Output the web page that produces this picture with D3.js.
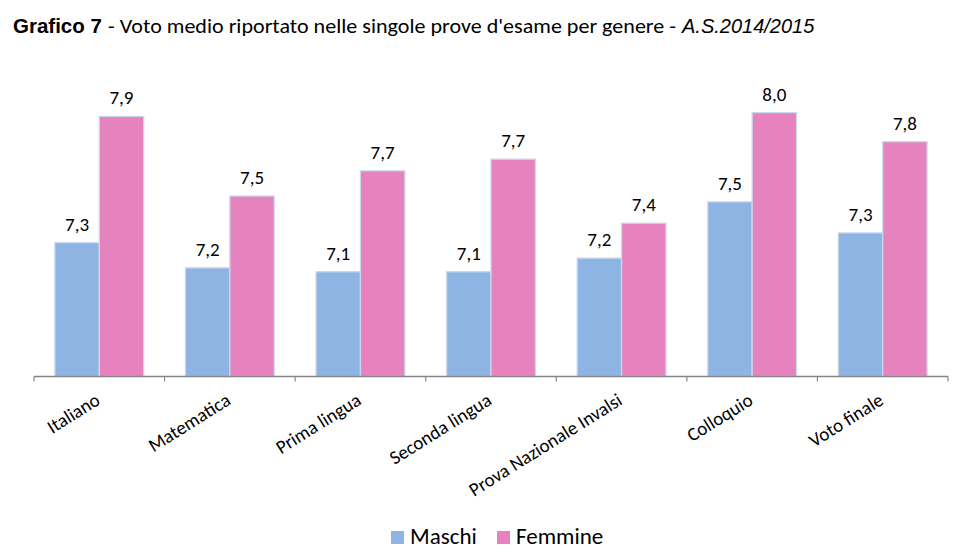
<!DOCTYPE html>
<html><head><meta charset="utf-8">
<script src="https://cdn.jsdelivr.net/npm/d3@7"></script>
<style>
body{margin:0;background:#fff;}
svg{display:block;}
</style></head>
<body>
<svg id="chart" width="971" height="558"></svg>
<script>
const categories = ["Italiano","Matematica","Prima lingua","Seconda lingua","Prova Nazionale Invalsi","Colloquio","Voto finale"];
const series = ["Maschi","Femmine"];
const maschi  = [7.29, 7.16, 7.14, 7.14, 7.21, 7.50, 7.34];
const femmine = [7.94, 7.53, 7.66, 7.72, 7.39, 7.96, 7.81];
const colors = ["#8EB4E3","#E683BE"];
const yDomain = [6.6, 8.2];

(function(){
const svg = d3.select("#chart");
const leftX = 34, rightX = 948, base = 376.5, topY = 66;
const labelFont = "Carlito, Calibri, Lato, sans-serif";
const arial = "'Liberation Sans', Arial, sans-serif";

// Title
svg.append("text").attr("x", 13).attr("y", 33).attr("fill", "#000")
  .attr("font-family", arial).attr("font-weight", "bold").attr("font-size", 20.5).text("Grafico 7");
svg.append("text").attr("x", 108).attr("y", 33).attr("fill", "#000")
  .attr("font-family", labelFont).attr("font-size", 21)
  .attr("textLength", 568).attr("lengthAdjust", "spacingAndGlyphs")
  .text("- Voto medio riportato nelle singole prove d'esame per genere -");
svg.append("text").attr("x", 682).attr("y", 33).attr("fill", "#000")
  .attr("font-family", arial).attr("font-style", "italic").attr("font-size", 20).text("A.S.2014/2015");

const x0 = d3.scaleBand().domain(categories).range([leftX, rightX]).paddingInner(0.32).paddingOuter(0.16);
const x1 = d3.scaleBand().domain(series).range([0, x0.bandwidth()]);
const y = d3.scaleLinear().domain(yDomain).range([base, topY]);

const data = categories.map((c, i) => ({cat: c, vals: [
  {s: "Maschi", v: maschi[i]}, {s: "Femmine", v: femmine[i]}]}));

const fmt = v => v.toFixed(1).replace(".", ",");

const g = svg.append("g");
const groups = g.selectAll("g.cat").data(data).join("g")
  .attr("transform", d => `translate(${x0(d.cat)},0)`);

groups.selectAll("rect").data(d => d.vals).join("rect")
  .attr("x", d => x1(d.s))
  .attr("y", d => y(d.v))
  .attr("width", x1.bandwidth())
  .attr("height", d => base - y(d.v))
  .attr("fill", (d, i) => colors[i])
  .attr("stroke", "#C9D8EE")
  .attr("stroke-width", 1.3);

groups.selectAll("text.val").data(d => d.vals).join("text")
  .attr("class", "val")
  .attr("x", d => x1(d.s) + x1.bandwidth() / 2)
  .attr("y", d => y(d.v) - 12)
  .attr("text-anchor", "middle")
  .attr("font-family", labelFont)
  .attr("font-size", 19)
  .attr("fill", "#000")
  .text(d => fmt(d.v));

// Axis line and ticks at category boundaries
const axisG = svg.append("g");
axisG.append("line").attr("x1", leftX).attr("x2", rightX).attr("y1", base).attr("y2", base)
  .attr("stroke", "#868686").attr("stroke-width", 1.5);
const bounds = d3.range(categories.length + 1).map(i => leftX + i * x0.step());
axisG.selectAll("line.tick").data(bounds).join("line")
  .attr("class", "tick")
  .attr("x1", d => d).attr("x2", d => d)
  .attr("y1", base).attr("y2", base + 5)
  .attr("stroke", "#868686").attr("stroke-width", 1.2);

// Category labels rotated
svg.append("g").selectAll("text").data(categories).join("text")
  .attr("transform", d => `translate(${x0(d) + x0.bandwidth() / 2 + 2},${base + 27}) rotate(-32)`)
  .attr("text-anchor", "end")
  .attr("font-family", labelFont)
  .attr("font-size", 19)
  .attr("fill", "#000")
  .text(d => d);

// Legend
const legend = svg.append("g");
const legendItems = [{s: "Maschi", x: 391}, {s: "Femmine", x: 497}];
legendItems.forEach((it, i) => {
  legend.append("rect").attr("x", it.x).attr("y", 531).attr("width", 13).attr("height", 13)
    .attr("fill", colors[i]);
  legend.append("text").attr("x", it.x + 19).attr("y", 544)
    .attr("font-family", labelFont).attr("font-size", 23).attr("fill", "#000").text(it.s);
});
})();
</script>
</body></html>
